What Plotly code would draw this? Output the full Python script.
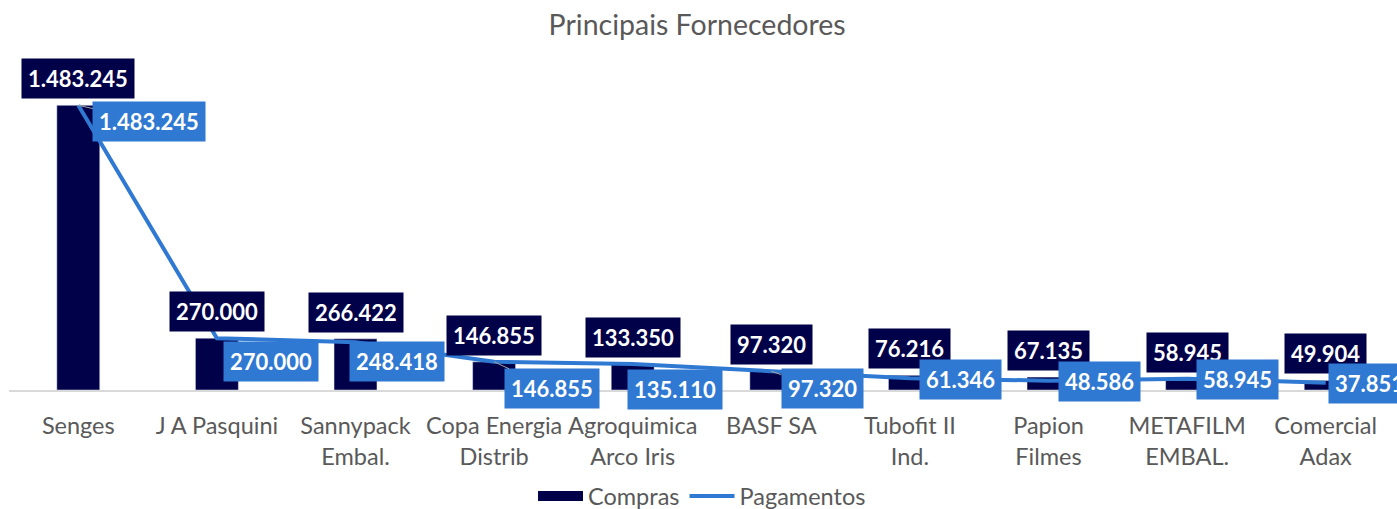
import plotly.graph_objects as go

categories = ["Senges", "J A Pasquini", "Sannypack<br>Embal.", "Copa Energia<br>Distrib",
              "Agroquimica<br>Arco Iris", "BASF SA", "Tubofit II<br>Ind.", "Papion<br>Filmes",
              "METAFILM<br>EMBAL.", "Comercial<br>Adax"]
compras = [1483245, 270000, 266422, 146855, 133350, 97320, 76216, 67135, 58945, 49904]
pagamentos = [1483245, 270000, 248418, 146855, 135110, 97320, 61346, 48586, 58945, 37851]

# label placement (pixel offsets of Pagamentos labels from their points)
pag_dx = [71, 54, 41, 58, 42, 51, 51, 51, 50, 44]
pag_dy = [16, 23, 19, 27, 25, 17, 1, 1, 1, 1]
pag_leader = [True, False, False, True, False, True, False, False, False, False]

NAVY = "#01014A"
BLUE = "#2F79D3"
GRAY = "#595959"
FONT = "Lato"


def fmt(v):
    return f"{v:,}".replace(",", ".")


fig = go.Figure()
fig.add_trace(go.Bar(x=categories, y=compras, name="Compras", marker_color=NAVY,
                     width=0.31, showlegend=False))
# legend-only entry with a wide rectangular swatch for Compras
fig.add_trace(go.Scatter(x=[None], y=[None], name="Compras", mode="lines",
                         line=dict(color=NAVY, width=14)))
fig.add_trace(go.Scatter(x=categories, y=pagamentos, name="Pagamentos", mode="lines",
                         line=dict(color=BLUE, width=4)))

annotations = []
for c, v in zip(categories, compras):
    annotations.append(dict(x=c, y=v, text=f"<b>{fmt(v)}</b>", showarrow=False,
                            xanchor="center", yanchor="bottom", yshift=6,
                            bgcolor=NAVY, borderpad=6,
                            font=dict(family=FONT, size=22, color="white")))
for c, v, dx, dy, lead in zip(categories, pagamentos, pag_dx, pag_dy, pag_leader):
    annotations.append(dict(x=c, y=v, text=f"<b>{fmt(v)}</b>", showarrow=True,
                            ax=dx, ay=dy, arrowhead=0, arrowwidth=1,
                            arrowcolor="#A6A6A6" if lead else "rgba(0,0,0,0)",
                            bgcolor=BLUE, borderpad=6,
                            font=dict(family=FONT, size=22, color="white")))

fig.update_layout(
    width=1397, height=509,
    margin=dict(l=9, r=2, t=60, b=119, autoexpand=False),
    paper_bgcolor="white", plot_bgcolor="white",
    title=dict(text="Principais Fornecedores", x=0.4965, xref="paper", xanchor="center",
               y=0.951, yanchor="middle",
               font=dict(family=FONT, size=28.5, color=GRAY)),
    font=dict(family=FONT, color=GRAY),
    showlegend=True,
    legend=dict(orientation="h", x=0.5, xanchor="center", xref="paper",
                y=-0.255, yanchor="top", itemwidth=45,
                font=dict(family=FONT, size=23.5, color=GRAY)),
    xaxis=dict(showline=True, linecolor="#D9D9D9", linewidth=1.5, showgrid=False,
               range=[-0.5, len(categories) - 0.5],
               ticks="", tickangle=0, automargin=False, ticklabelstandoff=14,
               tickfont=dict(family=FONT, size=23.5, color=GRAY),
               fixedrange=True),
    yaxis=dict(range=[0, 1719300], visible=False, showgrid=False, fixedrange=True,
               automargin=False),
    annotations=annotations,
)

fig.write_html(
    "out.html",
    config={"displayModeBar": False},
    post_script="document.body.style.margin='0';document.body.style.overflow='hidden';",
)
